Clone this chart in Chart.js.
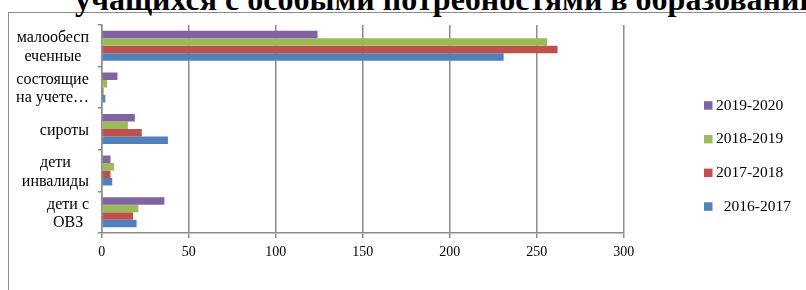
<!DOCTYPE html>
<html><head><meta charset="utf-8">
<script src="https://cdn.jsdelivr.net/npm/chart.js@4.4.1/dist/chart.umd.min.js"></script>
<style>
html,body{margin:0;padding:0;background:#fff;overflow:hidden;width:806px;height:290px;}
#frame{position:absolute;left:8px;top:12px;width:830px;height:300px;border:1px solid #8c8c8c;box-sizing:border-box;}
#title{position:absolute;left:75px;top:-17.3px;font:bold 32px/32px 'Liberation Serif','Times New Roman',serif;white-space:nowrap;color:#000;}
#wrap{position:absolute;left:0;top:0;width:806px;height:290px;}
</style></head><body>
<div id="frame"></div>
<div id="title">учащихся с особыми потребностями в образовании</div>
<div id="wrap"><canvas id="c" width="806" height="290"></canvas></div>
<script>
const categories = [['малообесп','еченные'], ['состоящие','на учете…'], ['сироты'], ['дети','инвалиды'], ['дети с','ОВЗ']];
const seriesNames = ['2019-2020', '2018-2019', '2017-2018', '  2016-2017'];
const v2019_2020 = [124, 9, 19, 5, 36];
const v2018_2019 = [256, 3, 15, 7, 21];
const v2017_2018 = [262, 1, 23, 5, 18];
const v2016_2017 = [231, 2, 38, 6, 20];
const xTicks = [0, 50, 100, 150, 200, 250, 300];
const colors = ['#8064A2', '#9BBB59', '#C0504D', '#4F81BD'];

const GRID = '#8c8c8c';
const FONT = "'Liberation Serif', 'Times New Roman', serif";

const yLabelPlugin = {
  id: 'yLabels',
  afterDraw(chart) {
    const s = chart.scales.y, c = chart.ctx;
    c.save();
    c.font = "16px " + FONT;
    c.fillStyle = '#000';
    c.textAlign = 'center';
    c.textBaseline = 'middle';
    const right = s.right - 12.8;
    const lh = 18.4;
    chart.data.labels.forEach((lab, i) => {
      const lines = Array.isArray(lab) ? lab : [lab];
      const w = Math.max(...lines.map(l => c.measureText(l).width));
      const cx = right - w / 2;
      const cy = s.getPixelForTick(i) + 1.5;
      lines.forEach((l, j) => c.fillText(l, cx, cy + (j - (lines.length - 1) / 2) * lh));
    });
    c.restore();
  }
};

const legendPlugin = {
  id: 'sideLegend',
  afterDraw(chart) {
    const c = chart.ctx;
    c.save();
    c.font = "15.5px " + FONT;
    c.textBaseline = 'middle';
    c.textAlign = 'left';
    const x0 = chart.chartArea.right + 80.3;
    const y0 = 105.7, step = 33.7;
    chart.data.datasets.forEach((ds, i) => {
      const cy = y0 + i * step;
      c.fillStyle = ds.backgroundColor;
      c.fillRect(x0, cy - 4.5, 8.5, 8.5);
      c.fillStyle = '#000';
      c.fillText(ds.label, x0 + 12, cy);
    });
    c.restore();
  }
};

const seriesValues = [v2019_2020, v2018_2019, v2017_2018, v2016_2017];

new Chart(document.getElementById('c'), {
  type: 'bar',
  data: {
    labels: categories,
    datasets: seriesNames.map((n, i) => ({
      label: n,
      data: seriesValues[i],
      backgroundColor: colors[i],
      borderWidth: 0,
      categoryPercentage: 0.72,
      barPercentage: 1
    }))
  },
  options: {
    indexAxis: 'y',
    responsive: false,
    animation: false,
    devicePixelRatio: 1,
    layout: { padding: { top: 25, right: 182.3, bottom: 0, left: 0 } },
    plugins: { legend: { display: false }, tooltip: { enabled: false }, title: { display: false } },
    scales: {
      x: {
        min: 0, max: 300,
        afterBuildTicks(s) { s.ticks = xTicks.map(v => ({ value: v })); },
        ticks: { color: '#000', font: { family: FONT, size: 14 }, padding: 6, maxRotation: 0 },
        grid: { color: GRID, lineWidth: 1.5, tickLength: 5, drawTicks: true },
        border: { color: GRID, width: 1.5 },
        afterFit(s) { s.height = 57; }
      },
      y: {
        ticks: { display: false },
        grid: { drawOnChartArea: false, tickLength: 4, color: GRID, lineWidth: 1.5, offset: true },
        border: { color: GRID, width: 1.5 },
        afterFit(s) { s.width = 101.8; }
      }
    }
  },
  plugins: [yLabelPlugin, legendPlugin]
});
</script>
</body></html>
